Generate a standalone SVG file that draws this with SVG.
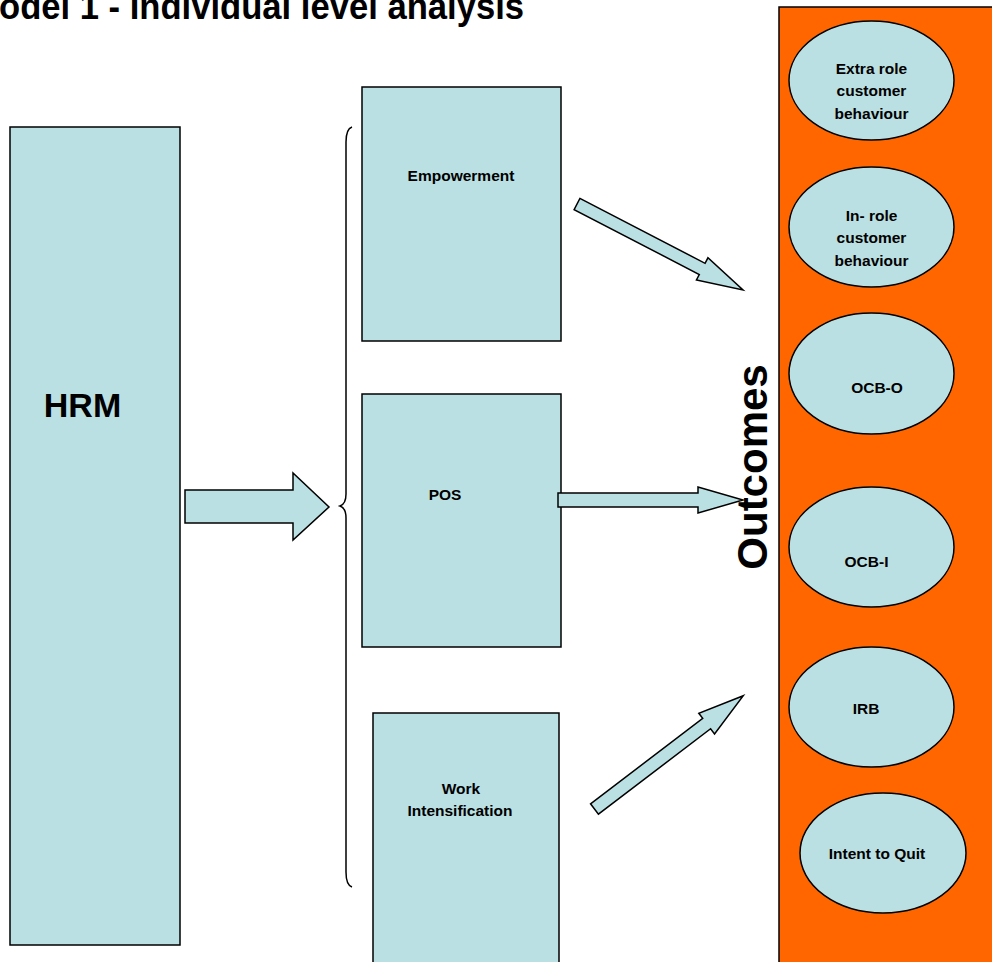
<svg xmlns="http://www.w3.org/2000/svg" width="992" height="962" viewBox="0 0 992 962">
<style>
.box{fill:#BBE0E3;stroke:#000;stroke-width:1.5}
.arr{fill:#BBE0E3;stroke:#000;stroke-width:1.5;stroke-linejoin:miter}
.t{font-family:"Liberation Sans",Arial,sans-serif;font-weight:bold;fill:#000;text-anchor:middle}
.s{font-size:15.5px}
</style>
<rect width="992" height="962" fill="#fff"/>
<text x="-1" y="19" font-family="Liberation Sans, Arial, sans-serif" font-weight="bold" font-size="36" fill="#000" textLength="525" lengthAdjust="spacingAndGlyphs">odel 1 - Individual level analysis</text>

<g id="outcomes">
<rect x="779" y="7" width="214" height="956" fill="#FF6600"/>
<path d="M993,7 H779 V963" fill="none" stroke="#000" stroke-width="1.5"/>
<text class="t" font-size="42" transform="translate(767,467) rotate(-90)">Outcomes</text>
</g>

<g id="hrm">
<rect class="box" x="10" y="127" width="170" height="818"/>
<text class="t" x="82.5" y="417" font-size="34">HRM</text>
</g>

<g id="empowerment">
<rect class="box" x="362" y="87" width="199" height="254"/>
<text class="t s" x="461" y="181">Empowerment</text>
</g>
<g id="pos">
<rect class="box" x="362" y="394" width="199" height="253"/>
<text class="t s" x="445" y="500">POS</text>
</g>
<g id="work">
<rect class="box" x="373" y="713" width="186" height="260"/>
<text class="t s" x="461" y="794">Work</text>
<text class="t s" x="460" y="816">Intensification</text>
</g>

<g id="extra">
<ellipse class="box" cx="871.5" cy="80.5" rx="82.5" ry="59.5"/>
<text class="t s" x="871.5" y="74">Extra role</text>
<text class="t s" x="871.5" y="96">customer</text>
<text class="t s" x="871.5" y="119">behaviour</text>
</g>
<g id="inrole">
<ellipse class="box" cx="871.5" cy="227" rx="82.5" ry="60"/>
<text class="t s" x="871.5" y="221">In- role</text>
<text class="t s" x="871.5" y="243">customer</text>
<text class="t s" x="871.5" y="266">behaviour</text>
</g>
<g id="ocbo">
<ellipse class="box" cx="871.5" cy="373.5" rx="82.5" ry="60.5"/>
<text class="t s" x="877" y="393">OCB-O</text>
</g>
<g id="ocbi">
<ellipse class="box" cx="871.5" cy="547" rx="82.5" ry="60"/>
<text class="t s" x="866.5" y="567">OCB-I</text>
</g>
<g id="irb">
<ellipse class="box" cx="871.5" cy="707" rx="82.5" ry="60"/>
<text class="t s" x="866" y="714">IRB</text>
</g>
<g id="quit">
<ellipse class="box" cx="883" cy="853" rx="83" ry="60"/>
<text class="t s" x="877" y="859">Intent to Quit</text>
</g>

<g id="connectors">
<path class="arr" d="M185,490 H293 V473 L329,507 L293,540 V523 H185 Z"/>
<path d="M352,127 Q346,129 346,142 V494 Q346,504 340,506 Q346,508 346,518 V872 Q346,885 352,887" fill="none" stroke="#000" stroke-width="1.5"/>
<path class="arr" transform="translate(577,204) rotate(27.4)" d="M0,-6.3 H141 V-12.5 L187,0 L141,12.5 V6.3 H0 Z"/>
<path class="arr" d="M558,493 H698 V487 L743,500 L698,513 V507 H558 Z"/>
<path class="arr" transform="translate(594.5,809) rotate(-37.3)" d="M0,-6.5 H141 V-13 L187,0 L141,13 V6.5 H0 Z"/>
</g>
</svg>
